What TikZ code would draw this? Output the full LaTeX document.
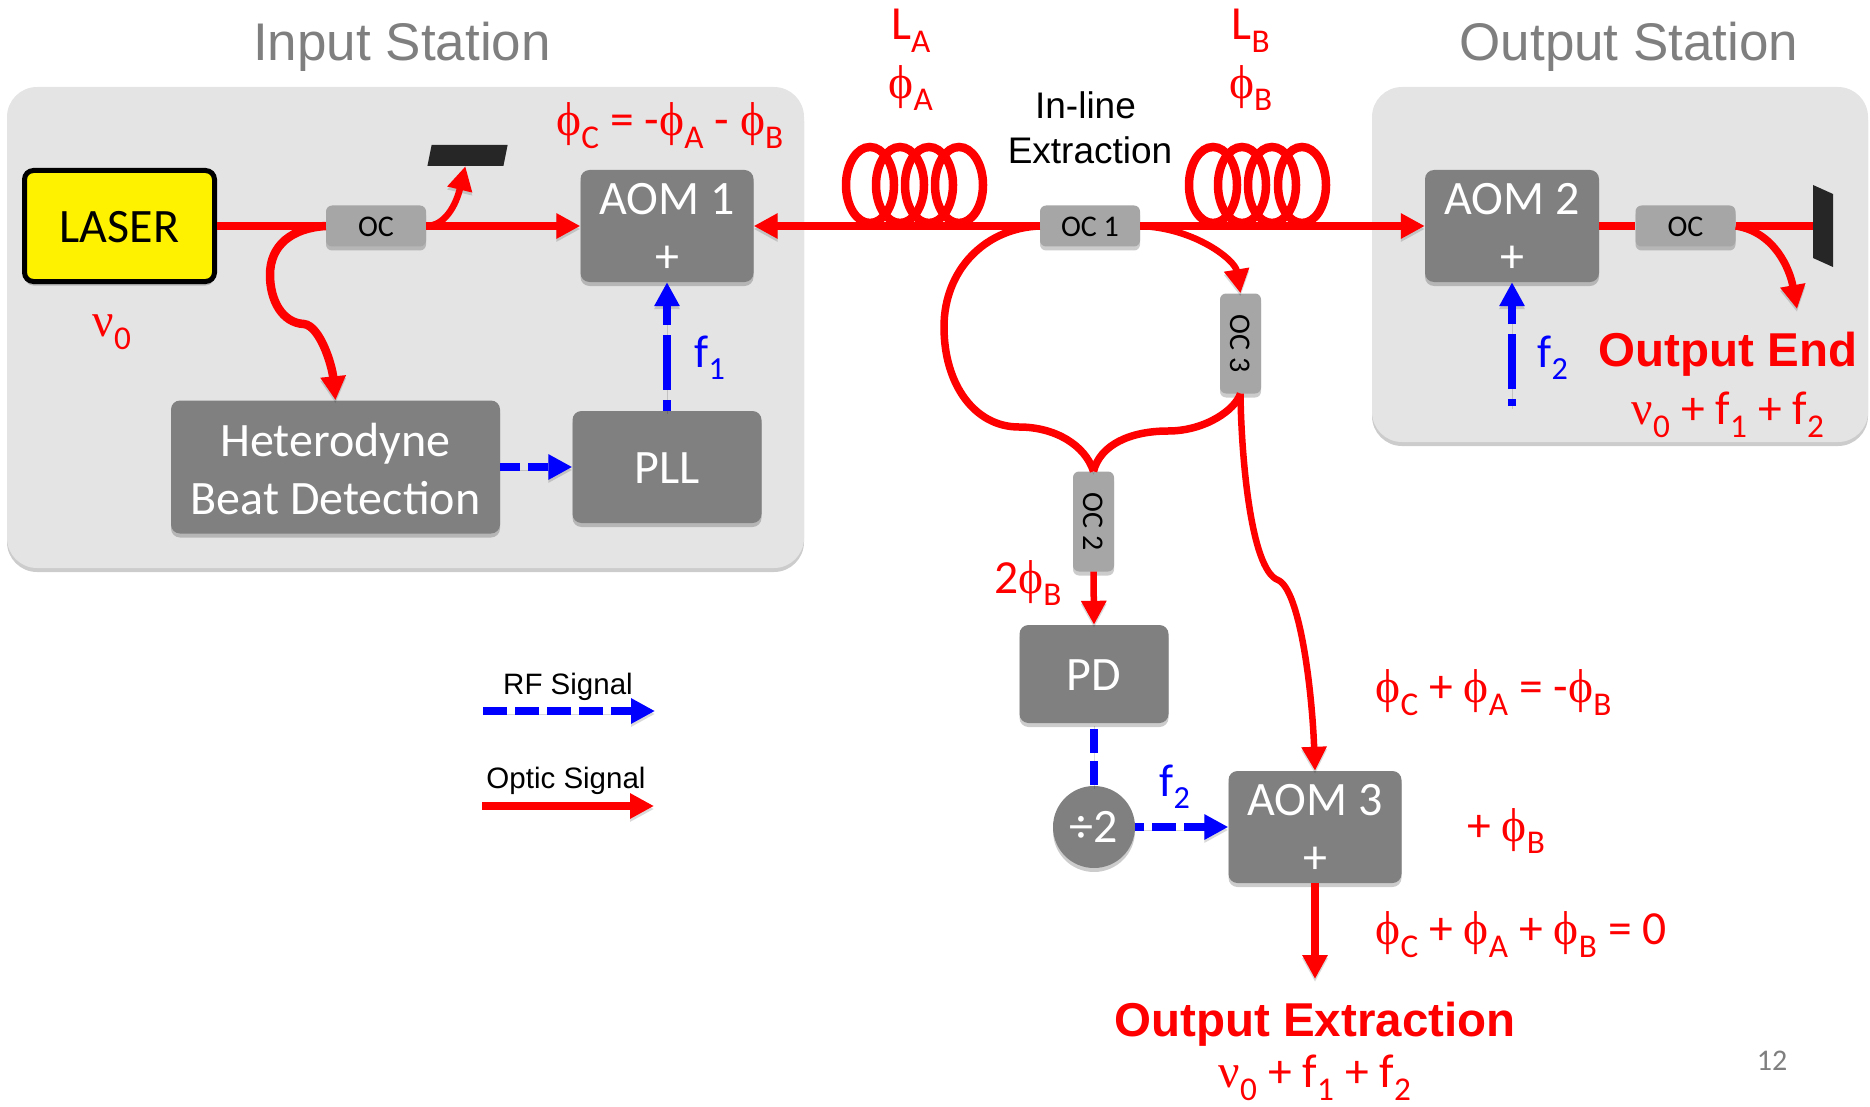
\documentclass[tikz,border=0pt]{standalone}
\usepackage{fontspec}
\usetikzlibrary{arrows.meta,shadows}
\setmainfont{Carlito}
\newfontfamily\arialfont{Liberation Sans}
\newfontfamily\phifont{Liberation Serif}
\newcommand{\phis}[1]{{\phifont ϕ}\textsubscript{#1}}
\newcommand{\nus}{{\phifont ν}\textsubscript{0}}
\newcommand{\topstrut}[1]{\rule{0pt}{#1}}
\definecolor{panelgray}{HTML}{E4E4E4}
\definecolor{boxgray}{HTML}{808080}
\definecolor{ocgray}{HTML}{A6A6A6}
\definecolor{titlegray}{HTML}{7F7F7F}

\begin{document}
\begin{tikzpicture}[x=1pt, y=-1pt,
	softshadow/.style={drop shadow={shadow xshift=0pt, shadow yshift=-4pt, opacity=.2, fill=black}},
	panel/.style={fill=panelgray, rounded corners=30pt, minimum width=797pt, inner sep=0pt, softshadow},
	box/.style={fill=boxgray, text=white, rounded corners=9pt, inner sep=0pt, align=center, softshadow, font=\fontsize{48}{58}\selectfont},
	ocbox/.style={fill=ocgray, rounded corners=6pt, inner sep=0pt, minimum width=100pt, minimum height=41pt, softshadow, font=\fontsize{30}{34}\selectfont},
	aom/.style={box, minimum width=173pt, minimum height=112pt},
	optic/.style={draw=red, line width=8.5pt, preaction={draw=black, opacity=.15, transform canvas={yshift=-3pt}}},
	opticthin/.style={optic, line width=7.5pt},
	opticfine/.style={optic, line width=6.5pt},
	rf/.style={draw=blue, line width=8pt, dash pattern=on 24pt off 8pt, preaction={draw=black, opacity=.15, transform canvas={yshift=-3pt}}},
	rflong/.style={rf, dash pattern=on 55pt off 10pt},
	redtip/.style={-{Triangle[length=24pt,width=24pt,fill=red]}},
	bluetip/.style={-{Triangle[length=24pt,width=24pt,fill=blue]}},
	title/.style={text=titlegray, font=\arialfont\fontsize{53}{60}\selectfont},
	blacklab/.style={font=\arialfont\fontsize{37}{45}\selectfont, align=center},
	leglab/.style={font=\arialfont\fontsize{29.5}{34}\selectfont},
	boldlab/.style={text=red, font=\arialfont\bfseries\fontsize{47.5}{54}\selectfont},
	redlab/.style={text=red, font=\fontsize{47.5}{52}\selectfont},
	bluelab/.style={text=blue, font=\fontsize{46}{50}\selectfont}]
	\useasboundingbox (0,0) rectangle (1870,1107);

	\node[panel, minimum height=481pt] (inputpanel) at (405.5,327.5) {};
	\node[panel, minimum width=496pt, minimum height=355pt] (outputpanel) at (1620,264.5) {};
	\node[title] (inputtitle) at (402,47) {Input Station};
	\node[title] (outputtitle) at (1629,47) {Output Station};

	\node[fill=yellow, draw=black, line width=5pt, rounded corners=9pt, minimum width=190pt, minimum height=111pt, inner sep=0pt, softshadow, font=\fontsize{48}{52}\selectfont] (laser) at (119.5,226) {\topstrut{33pt}LASER};
	\node[ocbox] (oca) at (376,226) {\topstrut{21pt}OC};
	\node[fill=black!85, minimum width=76pt, minimum height=21pt, inner sep=0pt, xslant=.2, transform shape] (dumpa) at (467.5,155.5) {};
	\node[aom] (aomone) at (667,226) {\topstrut{35pt}AOM 1\\+};
	\node[box, minimum width=329pt, minimum height=133pt] (hetero) at (335.5,467) {\topstrut{37pt}Heterodyne\\Beat Detection};
	\node[box, minimum width=189pt, minimum height=112pt] (pll) at (667,467) {\topstrut{33pt}PLL};
	\node[ocbox] (ocone) at (1090,226) {\topstrut{21pt}OC 1};
	\node[ocbox, rotate=-90] (octhree) at (1240.5,343.5) {OC 3};
	\node[ocbox, rotate=-90] (octwo) at (1093.5,521.5) {OC 2};
	\node[aom, minimum width=174pt] (aomtwo) at (1512,226) {\topstrut{35pt}AOM 2\\+};
	\node[ocbox] (ocb) at (1685.5,226) {\topstrut{21pt}OC};
	\node[fill=black!85, minimum width=20pt, minimum height=73pt, inner sep=0pt, yslant=-.45, transform shape] (dumpb) at (1823,226) {};
	\node[box, minimum width=149pt, minimum height=98pt] (pd) at (1094,674) {\topstrut{33pt}PD};
	\node[box, circle, minimum size=82pt] (divtwo) at (1094,827) {÷2};
	\node[aom] (aomthree) at (1315,827) {\topstrut{35pt}AOM 3\\+};

	\coordinate (endtip) at (1797,309);
	\coordinate (rfstart) at (1512,406);
	\coordinate (extrtip) at (1315,979);
	\coordinate (rfa) at (483,711);
	\coordinate (rfb) at (655,711);
	\coordinate (opa) at (482,806);
	\coordinate (opb) at (654,806);

	\foreach \cx in {870,900,929,959} {\draw[optic, line width=8.5pt] (\cx,185) ellipse (24pt and 38pt);}
	\foreach \cx in {1213,1242,1272,1302} {\draw[optic, line width=8.5pt] (\cx,185) ellipse (24pt and 38pt);}

	\draw[optic] (laser.east) -- (oca.west);
	\draw[optic, redtip] (oca.east) -- (aomone.west);
	\draw[opticfine, redtip] (oca.east) .. controls (445,226) and (456,205) .. (dumpa.south);
	\draw[optic, redtip] (oca.west) .. controls (292,228) and (270,245) .. (270,275) .. controls (270,300) and (282,323) .. (304,324) .. controls (320,326) and (332,365) .. (hetero.north);
	\draw[optic, redtip] (ocone.west) -- (aomone.east);
	\draw[optic, redtip] (ocone.east) -- (aomtwo.west);
	\draw[opticthin] (ocone.west) .. controls (985,228) and (944,270) .. (944,327) .. controls (944,385) and (975,427) .. (1019,427) .. controls (1055,427) and (1085,445) .. (octwo.west);
	\draw[opticfine, redtip] (ocone.east) .. controls (1195,228) and (1235,260) .. (octhree.west);
	\draw[opticthin] (octhree.east) .. controls (1235,410) and (1205,431) .. (1168,431) .. controls (1130,431) and (1100,445) .. (octwo.west);
	\draw[opticfine, redtip] (octhree.east) .. controls (1241,450) and (1250,570) .. (1278,580) .. controls (1300,590) and (1312,690) .. (aomthree.north);
	\draw[opticfine, redtip] (octwo.east) -- (pd.north);
	\draw[optic] (aomtwo.east) -- (ocb.west);
	\draw[optic] (ocb.east) -- (ocb.east -| dumpb.west);
	\draw[opticthin, redtip] (ocb.east) .. controls (1775,232) and (1790,270) .. (endtip);
	\draw[optic, redtip] (aomthree.south) -- (extrtip);
	\draw[optic, redtip] (opa) -- (opb);

	\draw[rflong, dash phase=44pt, bluetip] (pll.north) -- (aomone.south);
	\draw[rf, dash pattern=on 20pt off 8pt, bluetip] (hetero.east) -- (pll.west);
	\draw[rflong, dash phase=48pt, bluetip] (rfstart) -- (aomtwo.south);
	\draw[rf, dash phase=-6pt] (pd.south) -- (divtwo.north);
	\draw[rf, dash phase=15pt, bluetip] (divtwo.east) -- (aomthree.west);
	\draw[rf, bluetip] (rfa) -- (rfb);

	\node[redlab] (nulab) at (112,332) {\nus};
	\node[bluelab] (fonelab) at (710,358) {f\textsubscript{1}};
	\node[bluelab] (ftwolab) at (1553,358) {f\textsubscript{2}};
	\node[bluelab] (fthreelab) at (1175,787) {f\textsubscript{2}};
	\node[redlab] (phiclab) at (670,126) {\phis{C} = -\phis{A} - \phis{B}};
	\node[redlab] (lalab) at (911,31) {L\textsubscript{A}};
	\node[redlab] (phialab) at (911,88) {\phis{A}};
	\node[redlab] (lblab) at (1251,31) {L\textsubscript{B}};
	\node[redlab] (phiblab) at (1251,88) {\phis{B}};
	\node[blacklab] (inline) at (1090,128) {In-line\hspace*{9pt}\\Extraction};
	\node[boldlab] (endlab) at (1728,354) {Output End};
	\node[redlab] (endfreq) at (1728,415) {\nus{} + f\textsubscript{1} + f\textsubscript{2}};
	\node[redlab] (twophi) at (1028,583) {2\phis{B}};
	\node[redlab, anchor=west] (sumone) at (1372,693) {\phis{C} + \phis{A} = -\phis{B}};
	\node[redlab, anchor=west] (sumtwo) at (1464,831) {+ \phis{B}};
	\node[redlab, anchor=west] (sumthree) at (1372,935) {\phis{C} + \phis{A} + \phis{B} = 0};
	\node[boldlab] (extrlab) at (1315,1024) {Output Extraction};
	\node[redlab] (extrfreq) at (1315,1078) {\nus{} + f\textsubscript{1} + f\textsubscript{2}};
	\node[leglab] (rflab) at (568,687) {RF Signal};
	\node[leglab] (oplab) at (566,781) {Optic Signal};
	\node[text=titlegray, font=\fontsize{30}{34}\selectfont] (pagenum) at (1772,1061) {12};
\end{tikzpicture}
\end{document}
